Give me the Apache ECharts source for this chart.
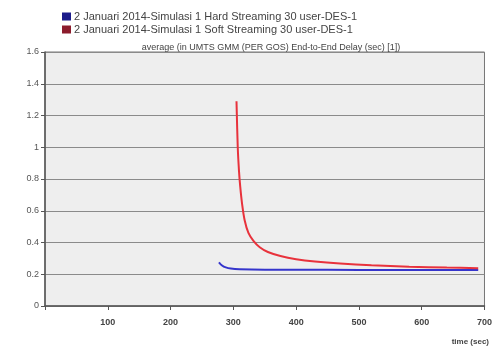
<!DOCTYPE html>
<html>
<head>
<meta charset="utf-8">
<script src="https://cdn.jsdelivr.net/npm/echarts@6/dist/echarts.min.js"></script>
<style>
  html, body { margin: 0; padding: 0; background: #fff; }
  #chart { width: 495px; height: 354px; }
</style>
</head>
<body>
<div id="chart"></div>
<script>
// series names
const hardName = '2 Januari 2014-Simulasi 1 Hard Streaming 30 user-DES-1';
const softName = '2 Januari 2014-Simulasi 1 Soft Streaming 30 user-DES-1';

// hard streaming (blue), time in sec / delay in sec
const hardTime = [277, 282, 288, 296, 310, 350, 450, 550, 690];
const hardDelay = [0.275, 0.255, 0.243, 0.236, 0.232, 0.229, 0.228, 0.227, 0.227];

// soft streaming (red)
const softTime = [305, 307, 309, 311, 314, 318, 324, 332, 342, 355, 375, 400, 430, 470, 520, 580, 640, 690];
const softDelay = [1.29, 1.0, 0.85, 0.75, 0.64, 0.54, 0.46, 0.41, 0.37, 0.34, 0.315, 0.295, 0.28, 0.267, 0.256, 0.248, 0.242, 0.238];

const yTicks = [0, 0.2, 0.4, 0.6, 0.8, 1, 1.2, 1.4, 1.6];
const xTicks = [0, 100, 200, 300, 400, 500, 600, 700];

const zip = (xs, ys) => xs.map((x, i) => [x, ys[i]]);

const chart = echarts.init(document.getElementById('chart'));
const font = 'Arial, "Liberation Sans", sans-serif';

chart.setOption({
    backgroundColor: '#ffffff',
    animation: false,
    textStyle: { fontFamily: font },
    title: {
        text: 'average (in UMTS GMM (PER GOS) End-to-End Delay (sec) [1])',
        left: 266,
        textAlign: 'center',
        top: 38,
        textStyle: { fontSize: 9, fontWeight: 'normal', color: '#444', fontFamily: font },
    },
    legend: {
        orient: 'vertical',
        left: 57,
        top: 6,
        itemWidth: 9,
        itemHeight: 8,
        itemGap: 2,
        icon: 'rect',
        textStyle: { fontSize: 11, color: '#444', fontFamily: font, padding: [0, 0, 0, -2] },
        data: [
            { name: hardName, itemStyle: { color: '#1b1b8a' } },
            { name: softName, itemStyle: { color: '#8c1c2c' } },
        ],
    },
    grid: {
        left: 45,
        right: 7,
        top: 52,
        bottom: 48,
        show: true,
        backgroundColor: '#eeeeee',
        borderColor: '#777',
        borderWidth: 1,
    },
    xAxis: {
        type: 'value',
        min: xTicks[0],
        max: xTicks[xTicks.length - 1],
        interval: 100,
        axisLine: { show: true, lineStyle: { color: '#555', width: 1.5 } },
        axisTick: { show: true, length: 4, lineStyle: { color: '#555' } },
        splitLine: { show: false },
        axisLabel: {
            fontSize: 9,
            fontWeight: 'bold',
            color: '#444',
            margin: 12,
            formatter: (v) => (v === 0 ? '' : String(v)),
        },
    },
    yAxis: {
        type: 'value',
        min: yTicks[0],
        max: yTicks[yTicks.length - 1],
        interval: 0.2,
        axisLine: { show: true, lineStyle: { color: '#555', width: 1.5 } },
        axisTick: { show: true, length: 4, lineStyle: { color: '#555' } },
        splitLine: { show: true, lineStyle: { color: '#8a8a8a', width: 1 } },
        axisLabel: { fontSize: 9, color: '#555', margin: 6 },
    },
    graphic: [{
        type: 'text',
        right: 6,
        bottom: 8,
        style: { text: 'time (sec)', fontSize: 8, fontWeight: 'bold', fill: '#444', fontFamily: font },
    }],
    series: [
        {
            name: hardName,
            type: 'line',
            data: zip(hardTime, hardDelay),
            showSymbol: false,
            smooth: 0.3,
            lineStyle: { color: '#3535cc', width: 2 },
            itemStyle: { color: '#1b1b8a' },
        },
        {
            name: softName,
            type: 'line',
            data: zip(softTime, softDelay),
            showSymbol: false,
            smooth: 0.3,
            lineStyle: { color: '#e8323c', width: 2 },
            itemStyle: { color: '#8c1c2c' },
        },
    ],
});
</script>
</body>
</html>
